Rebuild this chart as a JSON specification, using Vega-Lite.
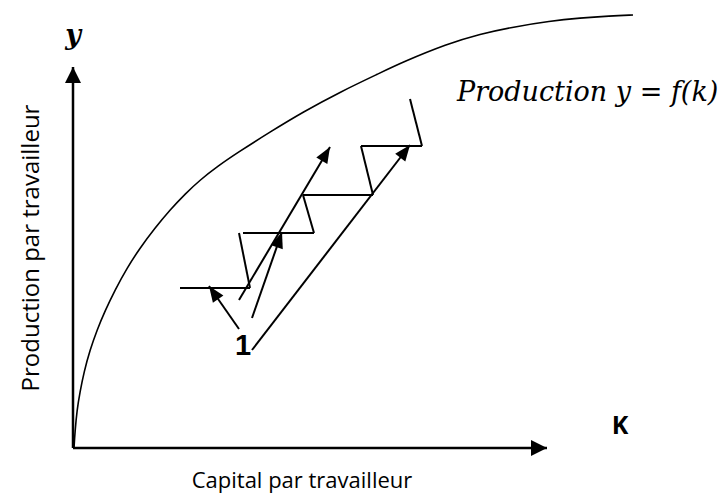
{
  "$schema": "https://vega.github.io/schema/vega-lite/v6.json",
  "width": 728,
  "height": 494,
  "autosize": {"type": "fit", "contains": "padding"},
  "padding": 0,
  "background": "white",
  "config": {"view": {"stroke": null}},
  "datasets": {
    "curve": [
      {"k": 74, "y": 448}, {"k": 75, "y": 432}, {"k": 77, "y": 410}, {"k": 80, "y": 392},
      {"k": 84, "y": 372}, {"k": 90, "y": 350}, {"k": 97, "y": 330}, {"k": 105, "y": 311},
      {"k": 115, "y": 290}, {"k": 127, "y": 268}, {"k": 140, "y": 248}, {"k": 155, "y": 228},
      {"k": 170, "y": 210}, {"k": 185, "y": 194}, {"k": 200, "y": 180}, {"k": 218, "y": 166},
      {"k": 237, "y": 153}, {"k": 270, "y": 132}, {"k": 303, "y": 112}, {"k": 340, "y": 92},
      {"k": 380, "y": 73}, {"k": 403, "y": 62}, {"k": 447, "y": 44}, {"k": 480, "y": 34},
      {"k": 513, "y": 27}, {"k": 550, "y": 21}, {"k": 580, "y": 18}, {"k": 610, "y": 16},
      {"k": 633, "y": 15}
    ],
    "segments": [
      {"x1": 180, "y1": 288, "x2": 250, "y2": 288},
      {"x1": 239, "y1": 233, "x2": 250, "y2": 288},
      {"x1": 243, "y1": 233, "x2": 314, "y2": 233},
      {"x1": 303, "y1": 195, "x2": 314, "y2": 233},
      {"x1": 303, "y1": 195, "x2": 373, "y2": 195},
      {"x1": 361, "y1": 146, "x2": 373, "y2": 195},
      {"x1": 361, "y1": 146, "x2": 422, "y2": 146},
      {"x1": 410, "y1": 99, "x2": 422, "y2": 146}
    ],
    "arrows": [
      {"x1": 239, "y1": 329, "x2": 209, "y2": 286},
      {"x1": 239, "y1": 300, "x2": 330, "y2": 147},
      {"x1": 252, "y1": 318, "x2": 282, "y2": 232},
      {"x1": 252, "y1": 350, "x2": 410, "y2": 145}
    ],
    "axes": [
      {"x1": 73, "y1": 448, "x2": 73, "y2": 67},
      {"x1": 73, "y1": 448, "x2": 547, "y2": 448}
    ]
  },
  "encoding": {
    "x": {"type": "quantitative", "scale": {"domain": [0, 728], "nice": false, "zero": false}, "axis": null},
    "y": {"type": "quantitative", "scale": {"domain": [0, 494], "nice": false, "zero": false, "reverse": true}, "axis": null}
  },
  "layer": [
    {
      "data": {"name": "curve"},
      "mark": {"type": "line", "color": "black", "strokeWidth": 1.6, "interpolate": "basis"},
      "encoding": {"x": {"field": "k"}, "y": {"field": "y"}}
    },
    {
      "data": {"name": "segments"},
      "mark": {"type": "rule", "color": "black", "strokeWidth": 2},
      "encoding": {"x": {"field": "x1"}, "y": {"field": "y1"}, "x2": {"field": "x2"}, "y2": {"field": "y2"}}
    },
    {
      "data": {"name": "arrows"},
      "mark": {"type": "rule", "color": "black", "strokeWidth": 2},
      "encoding": {"x": {"field": "x1"}, "y": {"field": "y1"}, "x2": {"field": "x2"}, "y2": {"field": "y2"}}
    },
    {
      "data": {"name": "arrows"},
      "transform": [{"calculate": "atan2(datum.x2 - datum.x1, datum.y1 - datum.y2) * 180 / PI", "as": "dir"}],
      "mark": {"type": "point", "shape": "M0,0L-0.8,2L0.8,2Z", "filled": true, "color": "black", "opacity": 1, "size": 256},
      "encoding": {"x": {"field": "x2"}, "y": {"field": "y2"}, "angle": {"field": "dir", "type": "quantitative", "scale": null}}
    },
    {
      "data": {"name": "axes"},
      "mark": {"type": "rule", "color": "black", "strokeWidth": 2.5},
      "encoding": {"x": {"field": "x1"}, "y": {"field": "y1"}, "x2": {"field": "x2"}, "y2": {"field": "y2"}}
    },
    {
      "data": {"name": "axes"},
      "transform": [{"calculate": "atan2(datum.x2 - datum.x1, datum.y1 - datum.y2) * 180 / PI", "as": "dir"}],
      "mark": {"type": "point", "shape": "M0,0L-1,2L1,2Z", "filled": true, "color": "black", "opacity": 1, "size": 256},
      "encoding": {"x": {"field": "x2"}, "y": {"field": "y2"}, "angle": {"field": "dir", "type": "quantitative", "scale": null}}
    },
    {
      "data": {"values": [{"x": 32, "y": 248, "t": "Production par travailleur"}]},
      "mark": {"type": "text", "font": "Open Sans", "fontSize": 24, "angle": 270, "align": "center", "baseline": "middle", "color": "black"},
      "encoding": {"x": {"field": "x"}, "y": {"field": "y"}, "text": {"field": "t"}}
    },
    {
      "data": {"values": [{"x": 302, "y": 481, "t": "Capital par travailleur"}]},
      "mark": {"type": "text", "font": "Open Sans", "fontSize": 22, "align": "center", "baseline": "middle", "color": "black"},
      "encoding": {"x": {"field": "x"}, "y": {"field": "y"}, "text": {"field": "t"}}
    },
    {
      "data": {"values": [{"x": 620, "y": 426, "t": "K"}]},
      "mark": {"type": "text", "font": "Open Sans", "fontSize": 25, "fontWeight": "bold", "align": "center", "baseline": "middle", "color": "black"},
      "encoding": {"x": {"field": "x"}, "y": {"field": "y"}, "text": {"field": "t"}}
    },
    {
      "data": {"values": [{"x": 243, "y": 346, "t": "1"}]},
      "mark": {"type": "text", "font": "Liberation Sans", "fontSize": 29, "fontWeight": "bold", "align": "center", "baseline": "middle", "color": "black"},
      "encoding": {"x": {"field": "x"}, "y": {"field": "y"}, "text": {"field": "t"}}
    },
    {
      "data": {"values": [{"x": 73, "y": 36, "t": "y"}]},
      "mark": {"type": "text", "font": "DejaVu Serif", "fontSize": 27, "fontWeight": "bold", "fontStyle": "italic", "align": "center", "baseline": "middle", "color": "black"},
      "encoding": {"x": {"field": "x"}, "y": {"field": "y"}, "text": {"field": "t"}}
    },
    {
      "data": {"values": [{"x": 457, "y": 93, "t": "Production y  = f(k)"}]},
      "mark": {"type": "text", "font": "DejaVu Serif", "fontSize": 27, "fontStyle": "italic", "align": "left", "baseline": "middle", "color": "black"},
      "encoding": {"x": {"field": "x"}, "y": {"field": "y"}, "text": {"field": "t"}}
    }
  ]
}
